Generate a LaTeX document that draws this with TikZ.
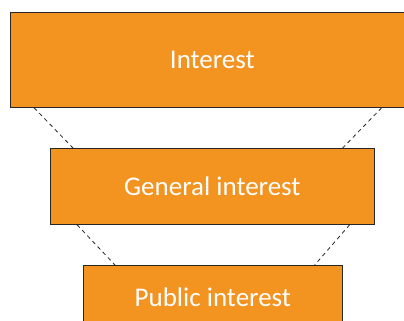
\documentclass[tikz,border=0pt]{standalone}
\usepackage{fontspec}
\setmainfont{Carlito}
\definecolor{boxorange}{HTML}{F39320}
\tikzset{
	level/.style={draw=black!85, line width=0.7pt, fill=boxorange, text=white,
		font=\fontsize{27}{32}\selectfont, inner sep=0pt, anchor=north west},
	link/.style={black!85, line width=0.8pt, dash pattern=on 4pt off 3.5pt}
}
\begin{document}
\begin{tikzpicture}[x=1pt,y=-1pt]
	\useasboundingbox (0,0) rectangle (404,321);
	\clip (0,0) rectangle (404,321);
	\node[level, minimum width=404pt, minimum height=95pt] (interest) at (10,12) {Interest};
	\node[level, minimum width=324pt, minimum height=76pt] (general) at (50,148) {General interest};
	\node[level, minimum width=259pt, minimum height=64pt] (public) at (83,265) {Public interest};
	% ends of the dashed lines
	\coordinate (i1) at ([xshift=24pt]interest.south west);
	\coordinate (i2) at ([xshift=-33pt]interest.south east);
	\coordinate (g1) at ([xshift=23pt]general.north west);
	\coordinate (g2) at ([xshift=-32pt]general.north east);
	\coordinate (g3) at ([xshift=27pt]general.south west);
	\coordinate (g4) at ([xshift=-25pt]general.south east);
	\coordinate (p1) at ([xshift=32pt]public.north west);
	\coordinate (p2) at ([xshift=-28pt]public.north east);
	\draw[link] (i1) -- (g1);
	\draw[link] (i2) -- (g2);
	\draw[link] (g3) -- (p1);
	\draw[link] (g4) -- (p2);
\end{tikzpicture}
\end{document}
